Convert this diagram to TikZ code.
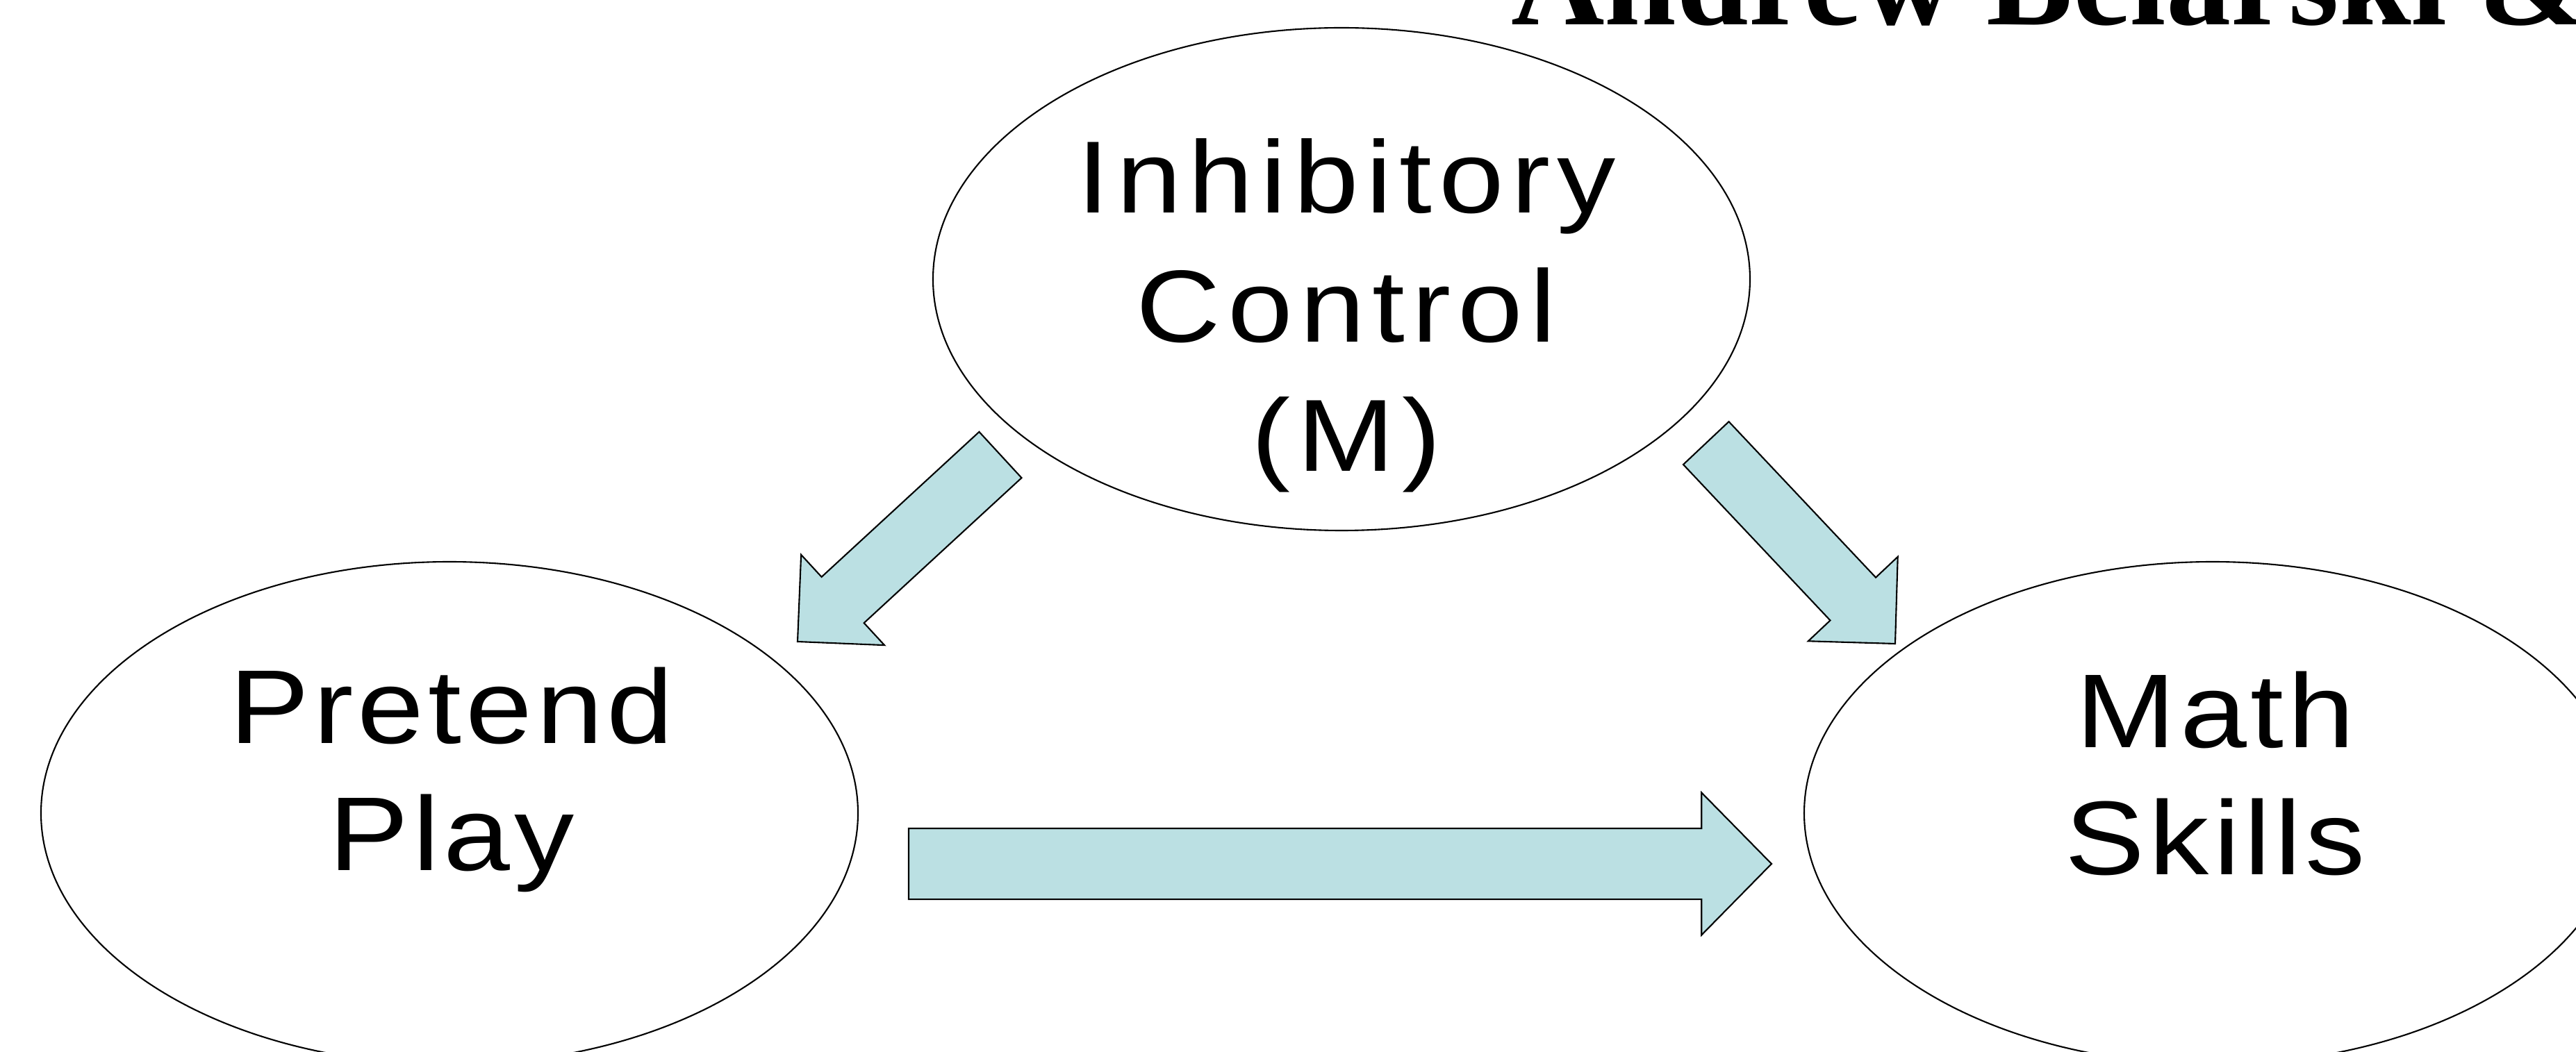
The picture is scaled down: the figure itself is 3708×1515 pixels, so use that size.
\documentclass[tikz,border=0pt]{standalone}
\usepackage{fontspec}
\setmainfont{Liberation Serif}
\newfontfamily\ovalfont[FakeStretch=1.14,LetterSpace=4]{Liberation Sans}
\newfontfamily\ovalwidefont[FakeStretch=1.14,LetterSpace=7]{Liberation Sans}
\usetikzlibrary{shapes.geometric,shapes.arrows}
\definecolor{arrowblue}{HTML}{BBE0E3}

\begin{document}
\begin{tikzpicture}[x=0.1mm,y=-0.1mm]
    \tikzstyle{oval}=[ellipse,draw,line width=0.6pt,minimum width=117.6mm,minimum height=72.4mm,inner sep=0]
    \tikzstyle{oval text}=[align=center,inner sep=0,anchor=base,font=\ovalfont\fontsize{43}{52}\selectfont]
    \tikzstyle{fat arrow}=[single arrow,draw,line width=0.6pt,fill=arrowblue,inner xsep=0,outer sep=0,anchor=tip]
    \tikzstyle{diag arrow}=[fat arrow,minimum height=39.7mm,minimum width=17.5mm,inner ysep=4.4mm,single arrow head extend=4.35mm]

    \useasboundingbox (0,0) rectangle (3708,1515);

    \node(title)[anchor=base west,font=\bfseries\fontsize{53}{60}\selectfont] at (2163,36){Andrew Belarski \&};

    \node(ic)[oval] at (1931,402){};
    \node(pp)[oval] at (647,1171){};
    \node(ms)[oval] at (3185,1171){};

    \node(ictext)[oval text,font=\ovalwidefont\fontsize{42}{53}\selectfont] at (1938,679){Inhibitory\\Control\\(M)};
    \node(pptext)[oval text] at (650,1253){Pretend\\Play};
    \node(mstext)[oval text] at (3189,1259){Math\\Skills};

    \node(icpp)[diag arrow,rotate=222.65] at (1148,924){};
    \node(icms)[diag arrow,rotate=-46.7] at (2728,927){};
    \node(ppms)[fat arrow,minimum height=124.2mm,minimum width=20.3mm,inner ysep=5mm,single arrow head extend=5.15mm,single arrow tip angle=91] at (2550,1244){};
\end{tikzpicture}
\end{document}
